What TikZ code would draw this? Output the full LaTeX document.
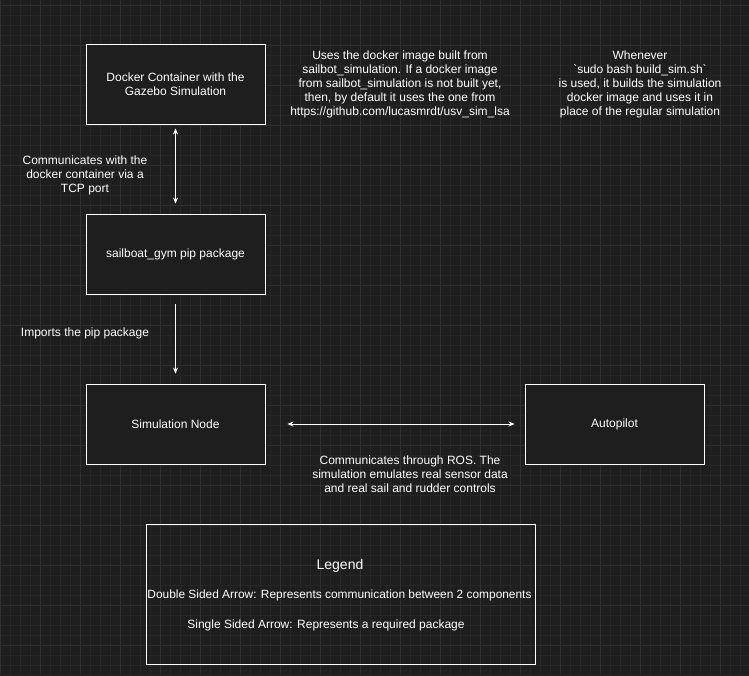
\documentclass[tikz,border=0pt]{standalone}
\usepackage{fontspec}
\setmainfont{Liberation Sans}
\usetikzlibrary{arrows.meta}
\definecolor{bg}{HTML}{1E1E1E}
\definecolor{gmin}{HTML}{262626}
\definecolor{gmaj}{HTML}{303030}
\begin{document}
\begin{tikzpicture}[x=1pt,y=-1pt,
  box/.style={draw=white,fill=bg,line width=0.9pt,minimum width=179pt,minimum height=80pt,text=white,font=\fontsize{12}{14}\selectfont,align=center},
  lbl/.style={text=white,font=\fontsize{12}{14}\selectfont,align=center},
  arr/.style={draw=white,line width=0.9pt,-{Stealth[length=6pt,width=5pt]}},
  darr/.style={draw=white,line width=0.9pt,{Stealth[length=6pt,width=5pt]}-{Stealth[length=6pt,width=5pt]}}]
\fill[bg] (0,0) rectangle (749,675);
\useasboundingbox (0,0) rectangle (749,675);
\foreach \i in {0,10,...,749} \draw[gmin,line width=0.5pt] (\i,0) -- (\i,675);
\foreach \i in {5,15,...,675} \draw[gmin,line width=0.5pt] (0,\i) -- (749,\i);
\foreach \i in {0,40,...,749} \draw[gmaj,line width=0.7pt] (\i,0) -- (\i,675);
\foreach \i in {5,45,...,675} \draw[gmaj,line width=0.7pt] (0,\i) -- (749,\i);
\node[box] (dock) at (175.5,84) {Docker Container with the\\Gazebo Simulation};
\node[box] (gym) at (175.5,254) {sailboat\_gym pip package};
\node[box] (sim) at (175.5,424) {Simulation Node};
\node[box] (auto) at (614.5,424) {Autopilot};
\node[draw=white,line width=0.9pt,minimum width=389pt,minimum height=140pt] (leg) at (340.5,594) {};
\draw[darr] ([yshift=-4pt]dock.south) -- ([yshift=10pt]gym.north);
\draw[arr] ([yshift=-10pt]gym.south) -- ([yshift=10pt]sim.north);
\draw[darr] ([xshift=22pt]sim.east) -- ([xshift=-10pt]auto.west);
\node[lbl] (t1) at (85,175) {Communicates with the\\docker container via a\\TCP port};
\node[lbl] (t2) at (85,333) {Imports the pip package};
\node[lbl] (t3) at (400,84) {Uses the docker image built from\\sailbot\_simulation. If a docker image\\from sailbot\_simulation is not built yet,\\then, by default it uses the one from\\https://github.com/lucasmrdt/usv\_sim\_lsa};
\node[lbl] (t4) at (640,84) {Whenever\\\textasciigrave sudo bash build\_sim.sh\textasciigrave\\is used, it builds the simulation\\docker image and uses it in\\place of the regular simulation};
\node[lbl] (t5) at (410,474) {Communicates through ROS. The\\simulation emulates real sensor data\\and real sail and rudder controls};
\node[lbl,font=\fontsize{14}{16}\selectfont] (lt) at (340,566) {Legend};
\node[lbl,font=\fontsize{11.9}{14}\selectfont] (l1) at (339.5,595) {Double Sided Arrow: Represents communication between 2 components};
\node[lbl] (l2) at (326,625) {Single Sided Arrow: Represents a required package};
\end{tikzpicture}
\end{document}
